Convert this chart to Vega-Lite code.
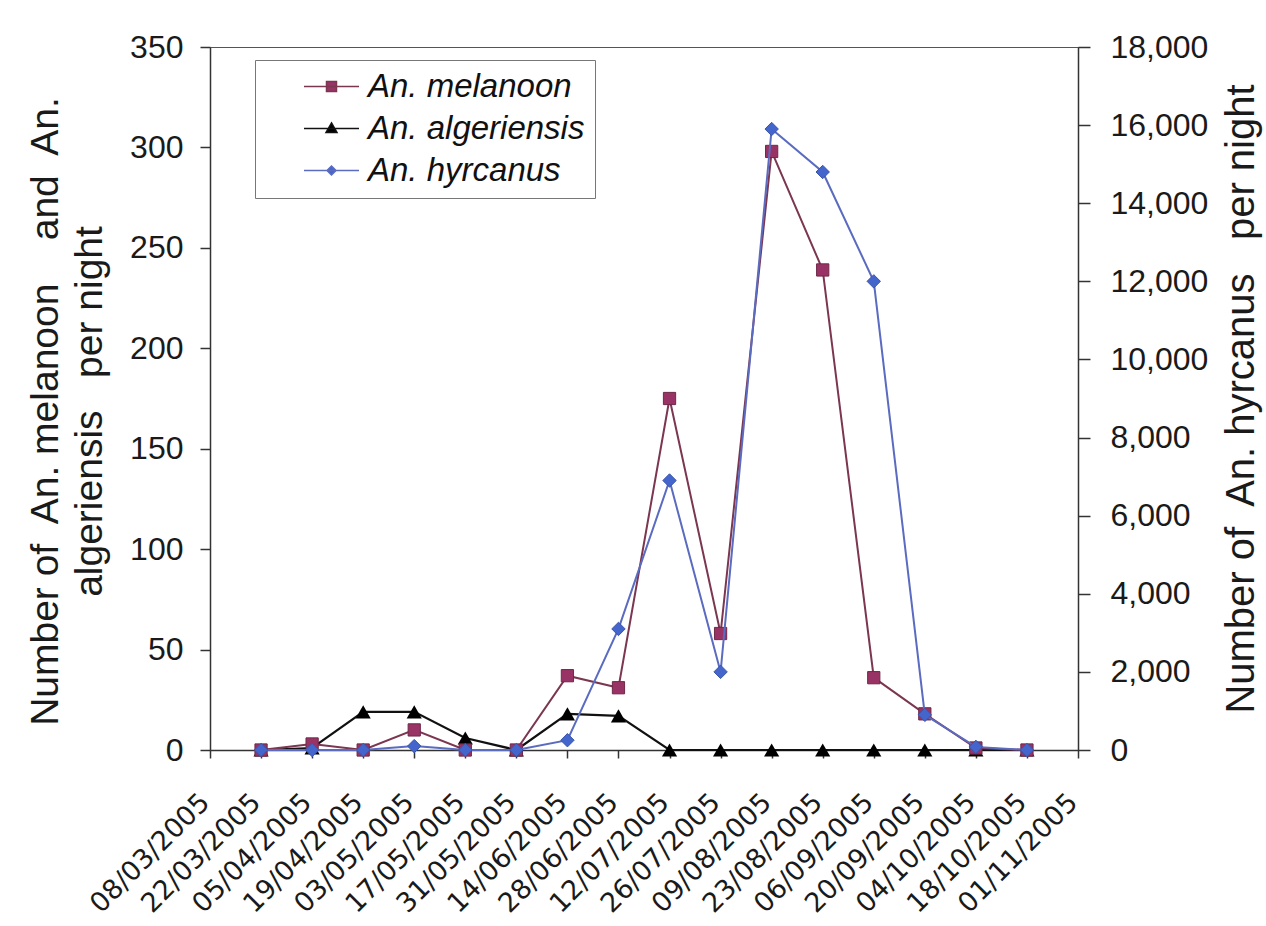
{
  "$schema": "https://vega.github.io/schema/vega-lite/v6.json",
  "width": 868,
  "height": 703,
  "autosize": "none",
  "padding": {"left": 210, "top": 47, "right": 188, "bottom": 176},
  "background": "white",
  "config": {
    "view": {"stroke": "#555", "strokeWidth": 1},
    "axis": {
      "domainColor": "#333", "domainWidth": 1.5, "tickColor": "#333", "tickWidth": 1.5,
      "labelColor": "#1a1a1a", "titleColor": "#1a1a1a", "grid": false,
      "labelFont": "Liberation Sans", "titleFont": "Liberation Sans", "titleFontWeight": "normal"
    }
  },
  "datasets": {
    "counts": [
      {"date": "2005-03-22", "species": "An. melanoon", "count": 0},
      {"date": "2005-04-05", "species": "An. melanoon", "count": 3},
      {"date": "2005-04-19", "species": "An. melanoon", "count": 0},
      {"date": "2005-05-03", "species": "An. melanoon", "count": 10},
      {"date": "2005-05-17", "species": "An. melanoon", "count": 0},
      {"date": "2005-05-31", "species": "An. melanoon", "count": 0},
      {"date": "2005-06-14", "species": "An. melanoon", "count": 37},
      {"date": "2005-06-28", "species": "An. melanoon", "count": 31},
      {"date": "2005-07-12", "species": "An. melanoon", "count": 175},
      {"date": "2005-07-26", "species": "An. melanoon", "count": 58},
      {"date": "2005-08-09", "species": "An. melanoon", "count": 298},
      {"date": "2005-08-23", "species": "An. melanoon", "count": 239},
      {"date": "2005-09-06", "species": "An. melanoon", "count": 36},
      {"date": "2005-09-20", "species": "An. melanoon", "count": 18},
      {"date": "2005-10-04", "species": "An. melanoon", "count": 1},
      {"date": "2005-10-18", "species": "An. melanoon", "count": 0},
      {"date": "2005-03-22", "species": "An. algeriensis", "count": 0},
      {"date": "2005-04-05", "species": "An. algeriensis", "count": 1},
      {"date": "2005-04-19", "species": "An. algeriensis", "count": 19},
      {"date": "2005-05-03", "species": "An. algeriensis", "count": 19},
      {"date": "2005-05-17", "species": "An. algeriensis", "count": 6},
      {"date": "2005-05-31", "species": "An. algeriensis", "count": 0},
      {"date": "2005-06-14", "species": "An. algeriensis", "count": 18},
      {"date": "2005-06-28", "species": "An. algeriensis", "count": 17},
      {"date": "2005-07-12", "species": "An. algeriensis", "count": 0},
      {"date": "2005-07-26", "species": "An. algeriensis", "count": 0},
      {"date": "2005-08-09", "species": "An. algeriensis", "count": 0},
      {"date": "2005-08-23", "species": "An. algeriensis", "count": 0},
      {"date": "2005-09-06", "species": "An. algeriensis", "count": 0},
      {"date": "2005-09-20", "species": "An. algeriensis", "count": 0},
      {"date": "2005-10-04", "species": "An. algeriensis", "count": 0},
      {"date": "2005-10-18", "species": "An. algeriensis", "count": 0},
      {"date": "2005-03-22", "species": "An. hyrcanus", "count": 0},
      {"date": "2005-04-05", "species": "An. hyrcanus", "count": 0},
      {"date": "2005-04-19", "species": "An. hyrcanus", "count": 0},
      {"date": "2005-05-03", "species": "An. hyrcanus", "count": 100},
      {"date": "2005-05-17", "species": "An. hyrcanus", "count": 0},
      {"date": "2005-05-31", "species": "An. hyrcanus", "count": 0},
      {"date": "2005-06-14", "species": "An. hyrcanus", "count": 250},
      {"date": "2005-06-28", "species": "An. hyrcanus", "count": 3100},
      {"date": "2005-07-12", "species": "An. hyrcanus", "count": 6900},
      {"date": "2005-07-26", "species": "An. hyrcanus", "count": 2000},
      {"date": "2005-08-09", "species": "An. hyrcanus", "count": 15900},
      {"date": "2005-08-23", "species": "An. hyrcanus", "count": 14800},
      {"date": "2005-09-06", "species": "An. hyrcanus", "count": 12000},
      {"date": "2005-09-20", "species": "An. hyrcanus", "count": 900},
      {"date": "2005-10-04", "species": "An. hyrcanus", "count": 80},
      {"date": "2005-10-18", "species": "An. hyrcanus", "count": 0}
    ]
  },
  "data": {"name": "counts"},
  "encoding": {
    "x": {
      "field": "date", "type": "temporal",
      "scale": {"type": "utc", "domain": [{"year": 2005, "month": 3, "date": 8, "utc": true}, {"year": 2005, "month": 11, "date": 1, "utc": true}]},
      "axis": {
        "title": null,
        "values": [
          {"year": 2005, "month": 3, "date": 8, "utc": true},
          {"year": 2005, "month": 3, "date": 22, "utc": true},
          {"year": 2005, "month": 4, "date": 5, "utc": true},
          {"year": 2005, "month": 4, "date": 19, "utc": true},
          {"year": 2005, "month": 5, "date": 3, "utc": true},
          {"year": 2005, "month": 5, "date": 17, "utc": true},
          {"year": 2005, "month": 5, "date": 31, "utc": true},
          {"year": 2005, "month": 6, "date": 14, "utc": true},
          {"year": 2005, "month": 6, "date": 28, "utc": true},
          {"year": 2005, "month": 7, "date": 12, "utc": true},
          {"year": 2005, "month": 7, "date": 26, "utc": true},
          {"year": 2005, "month": 8, "date": 9, "utc": true},
          {"year": 2005, "month": 8, "date": 23, "utc": true},
          {"year": 2005, "month": 9, "date": 6, "utc": true},
          {"year": 2005, "month": 9, "date": 20, "utc": true},
          {"year": 2005, "month": 10, "date": 4, "utc": true},
          {"year": 2005, "month": 10, "date": 18, "utc": true},
          {"year": 2005, "month": 11, "date": 1, "utc": true}
        ],
        "format": "%d/%m/%Y",
        "labelAngle": -45, "labelAlign": "right", "labelBaseline": "middle",
        "labelFont": "DejaVu Sans", "labelFontSize": 27, "labelOffset": -5,
        "labelOverlap": false, "labelFlush": false, "labelBound": false,
        "tickSize": 8, "labelPadding": 40
      }
    }
  },
  "layer": [
    {
      "encoding": {
        "y": {
          "field": "count", "type": "quantitative",
          "scale": {"domain": [0, 350], "nice": false},
          "axis": {
            "orient": "left",
            "values": [0, 50, 100, 150, 200, 250, 300, 350],
            "labelFontSize": 32, "tickSize": 10, "labelPadding": 17,
            "title": ["Number of\u00a0 An. melanoon\u00a0\u00a0\u00a0 and\u00a0 An.", "algeriensis\u00a0\u00a0 per night"],
            "titleFontSize": 39, "titleLineHeight": 44, "titlePadding": 20, "titleY": 364
          }
        }
      },
      "layer": [
        {
          "transform": [{"filter": "datum.species === 'An. algeriensis'"}],
          "mark": {"type": "line", "color": "#111111", "strokeWidth": 2.2}
        },
        {
          "transform": [{"filter": "datum.species === 'An. algeriensis'"}],
          "mark": {"type": "point", "shape": "triangle-up", "filled": true, "color": "#000000", "size": 230, "opacity": 1}
        },
        {
          "transform": [{"filter": "datum.species === 'An. melanoon'"}],
          "mark": {"type": "line", "color": "#7b3650", "strokeWidth": 2}
        },
        {
          "transform": [{"filter": "datum.species === 'An. melanoon'"}],
          "mark": {"type": "point", "shape": "square", "filled": true, "fill": "#993366", "stroke": "#6e2848", "strokeWidth": 1, "size": 150, "opacity": 1}
        },
        {
          "transform": [{"filter": "false"}],
          "mark": {"type": "point", "filled": true, "opacity": 1},
          "encoding": {
            "color": {
              "field": "species", "type": "nominal",
              "scale": {"domain": ["An. melanoon", "An. algeriensis", "An. hyrcanus"], "range": ["#993366", "#000000", "#4466cc"]},
              "legend": {
                "orient": "none", "legendX": 45, "legendY": 13, "title": null,
                "labelFont": "Liberation Sans", "labelFontSize": 33, "labelFontStyle": "italic", "labelColor": "#111",
                "labelLimit": 1000,
                "symbolSize": 100, "symbolStrokeWidth": 1.5, "symbolOffset": 50, "labelOffset": 20,
                "padding": 10, "rowPadding": 8, "strokeColor": "#777", "fillColor": "white"
              }
            },
            "stroke": {
              "field": "species", "type": "nominal",
              "scale": {"domain": ["An. melanoon", "An. algeriensis", "An. hyrcanus"], "range": ["#7b3650", "#111111", "#5a6bc0"]}
            },
            "shape": {
              "field": "species", "type": "nominal",
              "scale": {
                "domain": ["An. melanoon", "An. algeriensis", "An. hyrcanus"],
                "range": [
                  "M-5.5,0H5.5M-1,-1H1V1H-1Z",
                  "M-5.5,0H5.5M0,-1.1L1.1,0.8H-1.1Z",
                  "M-5.5,0H5.5M0,-0.9L0.9,0L0,0.9L-0.9,0Z"
                ]
              }
            }
          }
        }
      ]
    },
    {
      "encoding": {
        "y": {
          "field": "count", "type": "quantitative",
          "scale": {"domain": [0, 18000], "nice": false},
          "axis": {
            "orient": "right",
            "values": [0, 2000, 4000, 6000, 8000, 10000, 12000, 14000, 16000, 18000],
            "format": ",d",
            "labelFontSize": 32, "tickSize": 12, "labelPadding": 20,
            "title": "Number of\u00a0 An. hyrcanus\u00a0\u00a0 per night",
            "titleFontSize": 40, "titleAngle": 270, "titleBaseline": "top", "titlePadding": 14
          }
        }
      },
      "layer": [
        {
          "transform": [{"filter": "datum.species === 'An. hyrcanus'"}],
          "mark": {"type": "line", "color": "#5a6bc0", "strokeWidth": 2}
        },
        {
          "transform": [{"filter": "datum.species === 'An. hyrcanus'"}],
          "mark": {"type": "point", "shape": "diamond", "filled": true, "fill": "#4466cc", "stroke": "#3a55a8", "strokeWidth": 1, "size": 180, "opacity": 1}
        }
      ]
    }
  ],
  "resolve": {"scale": {"y": "independent"}}
}
